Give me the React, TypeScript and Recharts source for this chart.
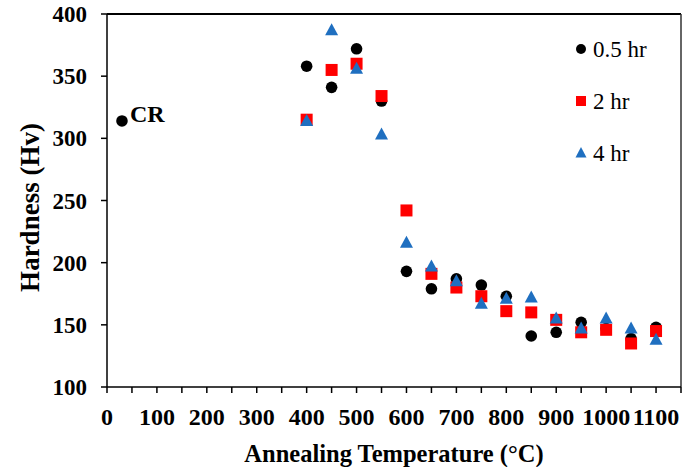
import React from 'react';
import { ScatterChart, Scatter, XAxis, YAxis, ReferenceLine, Legend } from 'recharts';

const temps = [400, 450, 500, 550, 600, 650, 700, 750, 800, 850, 900, 950, 1000, 1050, 1100];
const hr05 = [358, 341, 372, 330, 193, 179, 187, 182, 173, 141, 144, 152, 147, 139, 148];
const hr2 = [315, 355, 360, 334, 242, 191, 180, 173, 161, 160, 154, 144, 146, 135, 145];
const hr4 = [314, 387, 356, 303, 216, 197, 185, 167, 171, 172, 155, 147, 155, 147, 138];
const crTemp = [30];
const crHard = [314];
const crLabel = ['CR'];
const xTicks = [0, 50, 100, 150, 200, 250, 300, 350, 400, 450, 500, 550, 600, 650, 700, 750, 800, 850, 900, 950, 1000, 1050, 1100, 1150];
const yTicks = [100, 150, 200, 250, 300, 350, 400];
const seriesNames = ['0.5 hr', '2 hr', '4 hr'];

const d05 = temps.map((t, i) => ({ t, h: hr05[i] }));
const d2 = temps.map((t, i) => ({ t, h: hr2[i] }));
const d4 = temps.map((t, i) => ({ t, h: hr4[i] }));
const dCR = crTemp.map((t, i) => ({ t, h: crHard[i], name: crLabel[i] }));

const FONT = '"Liberation Serif", "Times New Roman", serif';
const BLACK = '#000000';
const RED = '#FF0000';
const BLUE = '#1F6FC0';

const Circle = (p: any) => <circle cx={p.cx} cy={p.cy} r={5.8} fill={BLACK} />;
const Square = (p: any) => <rect x={p.cx - 6} y={p.cy - 6} width={12} height={12} fill={RED} />;
const Tri = (p: any) => (
  <polygon points={`${p.cx},${p.cy - 7} ${p.cx + 6.5},${p.cy + 5} ${p.cx - 6.5},${p.cy + 5}`} fill={BLUE} />
);
const CRShape = (p: any) => (
  <g>
    <circle cx={p.cx} cy={p.cy} r={5.8} fill={BLACK} />
    <text x={p.cx + 8} y={p.cy + 1} fontFamily={FONT} fontWeight="bold" fontSize={24} fill="#000">
      {p.payload && p.payload.name}
    </text>
  </g>
);

const LegendContent = () => {
  const items = [
    { n: seriesNames[0], m: <circle cx={6} cy={0} r={5} fill={BLACK} /> },
    { n: seriesNames[1], m: <rect x={1} y={-5} width={10} height={10} fill={RED} /> },
    { n: seriesNames[2], m: <polygon points="6,-6 11.5,4.5 0.5,4.5" fill={BLUE} /> },
  ];
  return (
    <svg width={100} height={140} style={{ overflow: 'visible', display: 'block' }}>
      {items.map((it, i) => (
        <g key={i} transform={`translate(0, ${13 + i * 52})`}>
          {it.m}
          <text x={18} y={0} dy="0.35em" fontFamily={FONT} fontSize={23} fill="#000">{it.n}</text>
        </g>
      ))}
    </svg>
  );
};

const xFmt = (v: number) => (v % 100 === 0 && v <= 1100 ? String(v) : '');

export default function App() {
  return (
    <div style={{ position: 'absolute', left: 0, top: 0, width: 696, height: 467, background: '#fff' }}>
      <ScatterChart width={696} height={467} margin={{ top: 14, right: 15, bottom: 20, left: 47 }}>
        <XAxis
          type="number"
          dataKey="t"
          domain={[0, 1150]}
          ticks={xTicks}
          interval={0}
          tickFormatter={xFmt}
          height={60}
          tickSize={6}
          tickMargin={15}
          stroke="#000"
          strokeWidth={1.5}
          tickLine={{ stroke: '#000', strokeWidth: 1.5 }}
          tick={{ fill: '#000', fontFamily: FONT, fontWeight: 'bold', fontSize: 24 }}
          label={{ value: 'Annealing Temperature (°C)', position: 'center', dy: 36, fill: '#000', fontFamily: FONT, fontWeight: 'bold', fontSize: 24.5 }}
        />
        <YAxis
          type="number"
          dataKey="h"
          domain={[100, 400]}
          ticks={yTicks}
          interval={0}
          width={60}
          tickSize={6}
          tickMargin={14}
          stroke="#000"
          strokeWidth={1.5}
          tickLine={{ stroke: '#000', strokeWidth: 1.5 }}
          tick={{ fill: '#000', fontFamily: FONT, fontWeight: 'bold', fontSize: 23 }}
          label={{ value: 'Hardness (Hv)', angle: -90, position: 'center', dx: -48, dy: 7, fill: '#000', fontFamily: FONT, fontWeight: 'bold', fontSize: 27 }}
        />
        <ReferenceLine y={400} stroke="#000" strokeWidth={2} />
        <ReferenceLine x={1150} stroke="#333" strokeWidth={1.5} />
        <Legend
          content={<LegendContent />}
          layout="vertical"
          verticalAlign="middle"
          align="center"
          wrapperStyle={{ left: 575, top: 36, width: 110, height: 140 }}
        />
        <Scatter name="CR" data={dCR} shape={CRShape} isAnimationActive={false} legendType="none" />
        <Scatter name={seriesNames[0]} data={d05} shape={Circle} isAnimationActive={false} />
        <Scatter name={seriesNames[1]} data={d2} shape={Square} isAnimationActive={false} />
        <Scatter name={seriesNames[2]} data={d4} shape={Tri} isAnimationActive={false} />
      </ScatterChart>
    </div>
  );
}
